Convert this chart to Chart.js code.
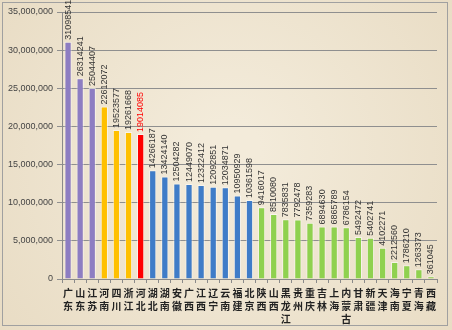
<!DOCTYPE html>
<html>
<head>
<meta charset="utf-8">
<script src="https://cdn.jsdelivr.net/npm/chart.js@4.4.0/dist/chart.umd.min.js"></script>
<style>
  html, body { margin: 0; padding: 0; background: #fff; }
  #wrap { width: 452px; height: 330px; }
</style>
</head>
<body>
<div id="wrap"><canvas id="provChart" width="452" height="330"></canvas></div>
<script>
// province names (x categories) and values
const provinces = ['广东', '山东', '江苏', '河南', '四川', '浙江', '河北', '湖北', '湖南', '安徽', '广西',
  '江西', '辽宁', '云南', '福建', '北京', '陕西', '山西', '黑龙江', '贵州', '重庆', '吉林', '上海',
  '内蒙古', '甘肃', '新疆', '天津', '海南', '宁夏', '青海', '西藏'];
const values = [31098541, 26314241, 25044407, 22612072, 19523577, 19261668, 19014085, 14266187,
  13424140, 12504282, 12449070, 12322412, 12092851, 12034871, 10950929, 10361598, 9416017, 8510080,
  7835831, 7792478, 7359283, 6894630, 6865789, 6786154, 5492472, 5402741, 4102271, 2212560,
  1786210, 1263373, 361045];
const yTicks = [0, 5000000, 10000000, 15000000, 20000000, 25000000, 30000000, 35000000];

// bar colour by rank group
function barColor(i) {
  if (i < 3) return '#8D7DC2';
  if (i < 6) return '#FFC000';
  if (i === 6) return '#FF0000';
  if (i < 16) return '#3F7CC8';
  return '#8FD14F';
}

const backdrop = {
  id: 'backdrop',
  beforeDraw(chart) {
    const c = chart.ctx;
    c.save();
    const g = c.createRadialGradient(230, 150, 30, 230, 160, 320);
    g.addColorStop(0, '#F3EBDA');
    g.addColorStop(1, '#E7DAC1');
    c.fillStyle = g;
    c.fillRect(0, 0, chart.width, chart.height);
    c.strokeStyle = '#A0A0A0';
    c.lineWidth = 1;
    c.strokeRect(2.5, 2.5, 445, 323);
    c.restore();
  }
};

const valueLabels = {
  id: 'valueLabels',
  afterDatasetsDraw(chart) {
    const c = chart.ctx;
    const meta = chart.getDatasetMeta(0);
    c.save();
    c.font = '9px "Liberation Sans"';
    c.textAlign = 'left';
    c.textBaseline = 'middle';
    meta.data.forEach(function (bar, i) {
      c.save();
      c.translate(bar.x, bar.y - 2);
      c.rotate(-Math.PI / 2);
      c.fillStyle = i === 6 ? '#FF0000' : '#333333';
      c.fillText(String(values[i]), 0, 0);
      c.restore();
    });
    c.restore();
  }
};

new Chart(document.getElementById('provChart').getContext('2d'), {
  type: 'bar',
  data: {
    labels: provinces.map(function (p) { return p.split(''); }),
    datasets: [{
      data: values,
      backgroundColor: values.map(function (v, i) { return barColor(i); }),
      borderColor: 'rgba(255,255,255,0.55)',
      borderWidth: 1,
      barPercentage: 0.6,
      categoryPercentage: 1
    }]
  },
  options: {
    responsive: false,
    animation: false,
    layout: { padding: { top: 12, right: 15, left: 0, bottom: 0 } },
    plugins: {
      legend: { display: false },
      tooltip: { enabled: false }
    },
    scales: {
      x: {
        offset: true,
        grid: { offset: true, color: 'transparent', tickColor: '#8A8A8A', tickLength: 4 },
        border: { display: true, color: '#8A8A8A' },
        ticks: {
          autoSkip: false,
          maxRotation: 0,
          minRotation: 0,
          color: '#222',
          padding: 4,
          font: { family: '"Noto Sans CJK SC"', size: 10, weight: 'bold', lineHeight: 1.3 }
        },
        afterFit: function (scale) { scale.height = 51; }
      },
      y: {
        min: 0,
        max: 35000000,
        afterBuildTicks: function (scale) {
          scale.ticks = yTicks.map(function (v) { return { value: v }; });
        },
        grid: { color: '#8F8F8F', tickLength: 5 },
        border: { display: true, color: '#8A8A8A' },
        ticks: {
          color: '#444',
          padding: 4,
          font: { family: '"Liberation Sans"', size: 9 },
          callback: function (v) { return v.toLocaleString('en-US'); }
        },
        afterFit: function (scale) { scale.width = 62; }
      }
    }
  },
  plugins: [backdrop, valueLabels]
});
</script>
</body>
</html>
